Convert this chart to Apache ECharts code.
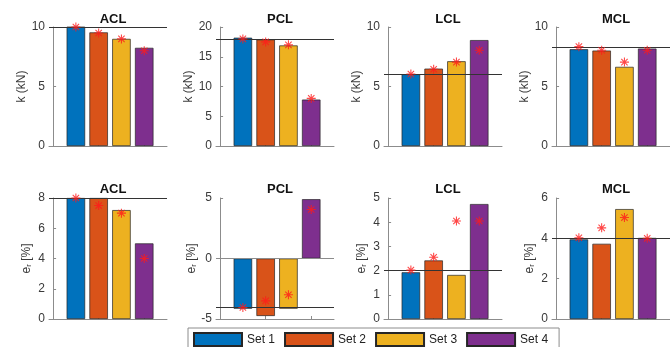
<!DOCTYPE html>
<html>
<head>
<meta charset="utf-8">
<script src="https://cdn.jsdelivr.net/npm/echarts@6/dist/echarts.min.js"></script>
<style>
  html, body { margin: 0; background: #fff; }
  #chart { width: 670px; height: 347px; }
</style>
</head>
<body>
<div id="chart"></div>
<script>
const sets = ['Set 1', 'Set 2', 'Set 3', 'Set 4']
const setColors = ['#0072BD', '#D95319', '#EDB120', '#7E2F8E']
const ligaments = ['ACL', 'PCL', 'LCL', 'MCL']

// stiffness k (kN): bars = measured, stars = reference values, line = target
const kBars = [[10.05, 9.55, 9.0, 8.25], [18.2, 17.9, 16.9, 7.8], [6.03, 6.5, 7.12, 8.9], [8.13, 8.02, 6.65, 8.19]]
const kStars = [[10.0, 9.5, 9.0, 8.0], [18.0, 17.5, 17.0, 8.0], [6.05, 6.45, 7.05, 8.05], [8.35, 8.05, 7.05, 8.05]]
const kRef = [10, 18, 6, 8.3]
const kMin = [0, 0, 0, 0]
const kMax = [10, 20, 10, 10]
const kStep = [5, 5, 5, 5]

// reference strain e_r (%)
const eBars = [[8.0, 8.0, 7.2, 5.0], [-4.15, -4.75, -4.15, 4.9], [1.93, 2.42, 1.82, 4.75], [3.95, 3.73, 5.45, 4.02]]
const eStars = [[8.0, 7.5, 7.0, 4.0], [-4.05, -3.5, -3.0, 4.05], [2.02, 2.55, 4.05, 4.05], [4.03, 4.52, 5.03, 4.0]]
const eRef = [8, -4, 2, 4]
const eMin = [0, -5, 0, 0]
const eMax = [8, 5, 5, 6]
const eStep = [2, 5, 1, 2]

const font = '"Liberation Sans", Arial, Helvetica, sans-serif'
const axisGray = '#8c8c8c'
const textColor = '#3a3a3a'

// MATLAB-like '*' marker built from four thin spokes
function asteriskPath() {
  const t = 0.12
  let d = ''
  for (const deg of [0, 45, 90, 135]) {
    const a = deg * Math.PI / 180
    const c = Math.cos(a), s = Math.sin(a)
    const pts = [[-1, -t], [1, -t], [1, t], [-1, t]].map(([x, y]) => [x * c - y * s, x * s + y * c])
    d += 'M' + pts.map(p => p[0].toFixed(3) + ' ' + p[1].toFixed(3)).join('L') + 'Z'
  }
  return 'path://' + d
}
const starSymbol = asteriskPath()

const gridLeft = [49, 216, 384, 552]
const gridWidth = 118
const rows = [
  { top: 27, height: 119, titleTop: 8, name: 'k (kN)', bars: kBars, stars: kStars, ref: kRef, min: kMin, max: kMax, step: kStep },
  { top: 198, height: 121, titleTop: 178, name: '{e|e}{sub|r}{e| [%]}', bars: eBars, stars: eStars, ref: eRef, min: eMin, max: eMax, step: eStep },
]

const grid = [], xAxis = [], yAxis = [], series = [], title = []

rows.forEach((row, r) => {
  ligaments.forEach((lig, c) => {
    const idx = r * 4 + c
    grid.push({ left: gridLeft[c], top: row.top, width: gridWidth, height: row.height })
    title.push({
      text: lig,
      left: gridLeft[c] + gridWidth / 2,
      top: row.titleTop,
      textAlign: 'center',
      textStyle: { fontSize: 13, fontWeight: 'bold', color: '#111', fontFamily: font },
    })
    xAxis.push({
      type: 'value',
      gridIndex: idx,
      min: -0.18,
      max: 5,
      axisLine: { onZero: false, lineStyle: { color: axisGray } },
      axisTick: { show: true, inside: true, length: 3, customValues: [2, 4], lineStyle: { color: axisGray } },
      axisLabel: { show: false },
      splitLine: { show: false },
    })
    yAxis.push({
      type: 'value',
      gridIndex: idx,
      min: row.min[c],
      max: row.max[c],
      interval: row.step[c],
      axisLine: { show: true, lineStyle: { color: axisGray } },
      axisTick: { show: true, inside: true, length: 3, lineStyle: { color: axisGray } },
      axisLabel: { color: textColor, fontSize: 12, margin: 4, fontFamily: font },
      splitLine: { show: false },
      name: row.name,
      nameLocation: 'middle',
      nameGap: 16,
      nameTextStyle: {
        color: textColor,
        fontSize: 12,
        fontFamily: font,
        rich: {
          e: { fontSize: 12, color: textColor, fontFamily: font },
          sub: { fontSize: 8, color: textColor, fontFamily: font, verticalAlign: 'bottom', lineHeight: 8 },
        },
      },
    })

    sets.forEach((s, i) => {
      series.push({
        type: 'bar',
        name: s,
        xAxisIndex: idx,
        yAxisIndex: idx,
        data: [[i + 1, row.bars[c][i]]],
        barWidth: 18.5,
        barGap: '-100%',
        itemStyle: { color: setColors[i], borderColor: '#262626', borderWidth: 0.7 },
      })
    })

    const lines = [{ yAxis: row.ref[c], lineStyle: { color: '#333', width: 1, type: 'solid' } }]
    if (row.min[c] < 0) lines.push({ yAxis: 0, lineStyle: { color: axisGray, width: 1, type: 'solid' } })

    series.push({
      type: 'scatter',
      xAxisIndex: idx,
      yAxisIndex: idx,
      data: row.stars[c].map((v, i) => [i + 1, v]),
      symbol: starSymbol,
      symbolSize: 9,
      symbolKeepAspect: true,
      itemStyle: { color: '#ff1a1a' },
      clip: false,
      z: 5,
      markLine: {
        silent: true,
        symbol: ['none', 'none'],
        label: { show: false },
        data: lines,
      },
    })
  })
})

const chart = echarts.init(document.getElementById('chart'))
chart.setOption({
  backgroundColor: '#ffffff',
  animation: false,
  title,
  grid,
  xAxis,
  yAxis,
  series,
  legend: {
    data: sets,
    left: 188,
    top: 328,
    icon: 'rect',
    itemWidth: 48,
    itemHeight: 13,
    itemGap: 9,
    padding: [4, 11, 4, 5],
    borderColor: axisGray,
    borderWidth: 1,
    textStyle: { fontSize: 12, color: '#222', fontFamily: font },
  },
})
</script>
</body>
</html>
